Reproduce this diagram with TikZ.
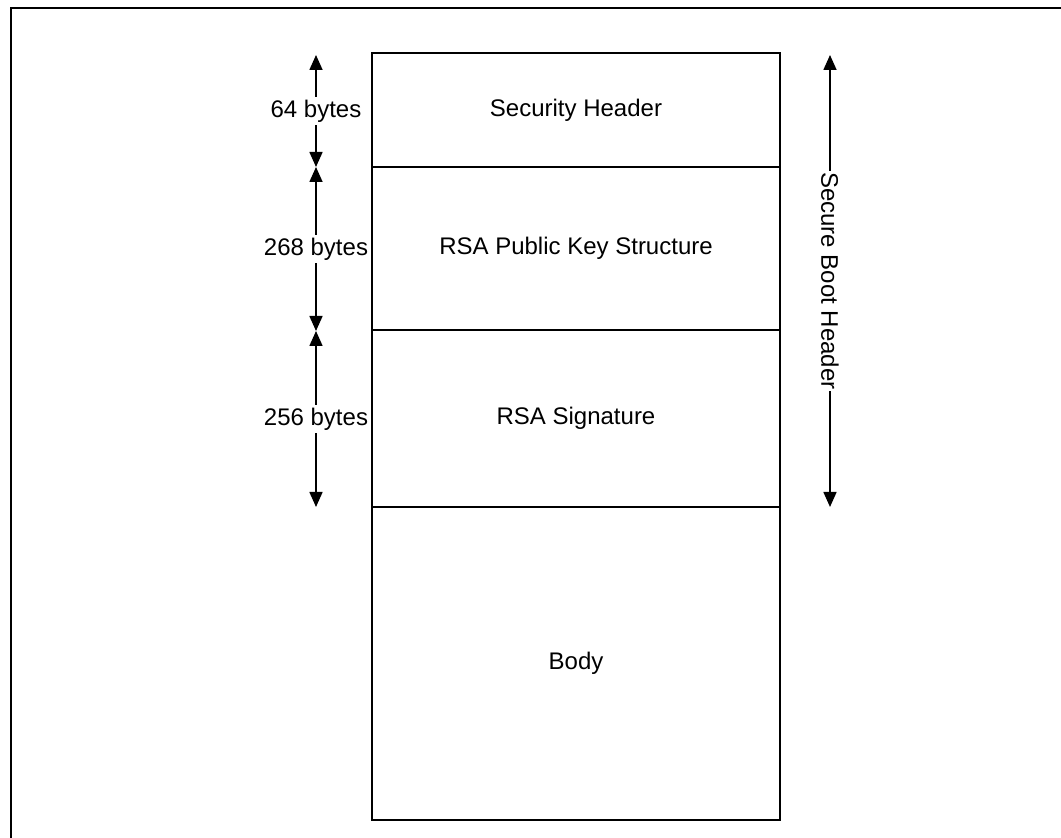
\documentclass[tikz,border=0pt]{standalone}
\usepackage{fontspec}
\setmainfont{Liberation Sans}
\usetikzlibrary{arrows.meta}
\begin{document}
\begin{tikzpicture}[x=0.5pt,y=-0.5pt,
  seg/.style={draw,line width=1pt,rectangle,minimum width=204pt,inner sep=0pt,font=\fontsize{12}{14}\selectfont},
  dim/.style={line width=0.8pt,{Triangle[length=7.5pt,width=6.5pt]}-{Triangle[length=7.5pt,width=6.5pt]}},
  lab/.style={fill=white,inner sep=1.5pt,font=\fontsize{12}{14}\selectfont}]
\useasboundingbox (0,0) rectangle (1061,838);
\draw[line width=1.1pt] (11,838) -- (11,8) -- (1061,8);
\node[seg,minimum height=57pt] (sh) at (576,110) {Security Header};
\node[seg,minimum height=81.5pt] (pk) at (576,248.5) {RSA Public Key Structure};
\node[seg,minimum height=88.5pt] (sig) at (576,418.5) {RSA Signature};
\node[seg,minimum height=156.5pt] (body) at (576,663.5) {Body};
\coordinate (a1) at (316,55);
\coordinate (a2) at (316,167);
\coordinate (a3) at (316,331);
\coordinate (a4) at (316,507);
\coordinate (r1) at (830,55);
\coordinate (r2) at (830,507);
\draw[dim] (a1) -- node[lab] (l1) {64 bytes} (a2);
\draw[dim] (a2) -- node[lab] (l2) {268 bytes} (a3);
\draw[dim] (a3) -- node[lab] (l3) {256 bytes} (a4);
\draw[dim] (r1) -- node[lab,rotate=-90,inner sep=0.5pt] (l4) {Secure Boot Header} (r2);
\end{tikzpicture}
\end{document}
